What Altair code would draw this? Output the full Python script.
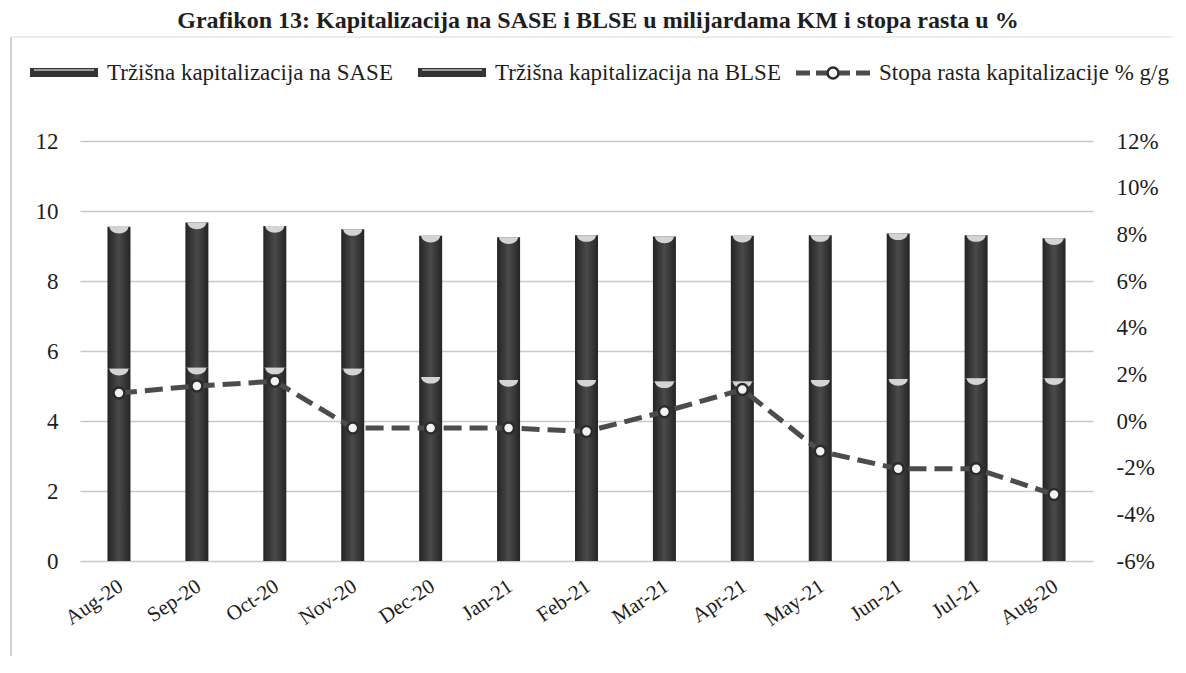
import json
import altair as alt
import pandas as pd

# ---------------- data ----------------
months = ["Aug-20", "Sep-20", "Oct-20", "Nov-20", "Dec-20", "Jan-21", "Feb-21",
          "Mar-21", "Apr-21", "May-21", "Jun-21", "Jul-21", "Aug-20"]
sase = [5.49, 5.52, 5.52, 5.49, 5.26, 5.17, 5.17, 5.13, 5.13, 5.17, 5.20, 5.22, 5.22]
blse = [4.06, 4.15, 4.05, 3.99, 4.03, 4.08, 4.14, 4.14, 4.16, 4.14, 4.16, 4.09, 4.00]
growth = [1.2, 1.5, 1.7, -0.3, -0.3, -0.3, -0.45, 0.4, 1.35, -1.3, -2.05, -2.05, -3.15]

left_ticks = [0, 2, 4, 6, 8, 10, 12]
right_ticks = [-6, -4, -2, 0, 2, 4, 6, 8, 10, 12]

title_text = "Grafikon 13: Kapitalizacija na SASE i BLSE u milijardama KM i stopa rasta u %"
legend_labels = ["Tržišna kapitalizacija na SASE",
                 "Tržišna kapitalizacija na BLSE",
                 "Stopa rasta kapitalizacije % g/g"]

# ---------------- table ----------------
df = pd.DataFrame({
    "idx": list(range(len(months))),
    "month": months,
    "sase": sase,
    "blse": blse,
    "growth": growth,
})
df["total"] = df["sase"] + df["blse"]

FONT = "Liberation Serif"
TXT = "#1e1e1e"
BAR_FILL = alt.LinearGradient(
    gradient="linear",
    stops=[alt.GradientStop(color="#242424", offset=0),
           alt.GradientStop(color="#4a4a4a", offset=0.5),
           alt.GradientStop(color="#242424", offset=1)],
    x1=0, x2=1, y1=0, y2=0,
)
CAP_SHAPE = "M -1 0 A 1 0.7 0 0 0 1 0 Z"
label_expr = json.dumps(months) + "[datum.value]"


def x_enc():
    return alt.X(
        "idx:O",
        title=None,
        scale=alt.Scale(type="band", paddingInner=0, paddingOuter=0),
        axis=alt.Axis(labelExpr=label_expr, labelAngle=-34, labelAlign="right",
                      labelBaseline="top", labelPadding=14, labelFontSize=21,
                      labelOffset=-4, labelOverlap=False, grid=False, ticks=False,
                      domain=False),
    )


y_left = alt.Y(
    "sase:Q", title=None,
    scale=alt.Scale(domain=[0, 12], nice=False, zero=True),
    axis=alt.Axis(values=left_ticks, format="d", grid=True, gridColor="#c9c9c9",
                  gridWidth=1.5, labelPadding=22, orient="left"),
)

base = alt.Chart(df)

bar_sase = base.mark_bar(size=23, color=BAR_FILL).encode(x=x_enc(), y=y_left)
bar_blse = base.mark_bar(size=23, color=BAR_FILL).encode(
    x=x_enc(), y=alt.Y("sase:Q"), y2=alt.Y2("total:Q"))
cap_sase = base.mark_point(shape=CAP_SHAPE, filled=True, color="#d4d4d4",
                           size=361, opacity=1).encode(x=x_enc(), y=alt.Y("sase:Q"))
cap_blse = base.mark_point(shape=CAP_SHAPE, filled=True, color="#d4d4d4",
                           size=361, opacity=1).encode(x=x_enc(), y=alt.Y("total:Q"))

left_group = alt.layer(bar_sase, bar_blse, cap_sase, cap_blse)

y_right = alt.Y(
    "growth:Q", title=None,
    scale=alt.Scale(domain=[-6, 12], nice=False, zero=False),
    axis=alt.Axis(values=right_ticks, labelExpr="datum.value + '%'", grid=False,
                  labelPadding=23, orient="right"),
)
line = base.mark_line(color="#4e4b4f", strokeWidth=5, strokeDash=[18, 8]).encode(
    x=x_enc(), y=y_right)
pts = base.mark_point(filled=True, fill="#f2f2f2", stroke="#2c2c2c", strokeWidth=2.5,
                      size=120, opacity=1).encode(x=x_enc(), y=alt.Y("growth:Q"))
right_group = alt.layer(line, pts)

# ---------------- decorations: frame, title, legend ----------------
one = alt.Chart(pd.DataFrame({"k": [0]}))

frame_left = one.mark_rule(color="#cfcfcf", strokeWidth=2).encode(
    x=alt.value(-69), y=alt.value(-104), y2=alt.value(540))
frame_top = one.mark_rule(color="#e6e6e6", strokeWidth=1.5).encode(
    x=alt.value(-69), x2=alt.value(1110), y=alt.value(-104))

title = one.mark_text(text=title_text, font=FONT, fontSize=24, fontWeight="bold",
                      color=TXT, align="center", baseline="alphabetic").encode(
    x=alt.value(518), y=alt.value(-113))

LEG_Y = -68
sw1 = one.mark_rect(color="#343434").encode(
    x=alt.value(-50), x2=alt.value(18), y=alt.value(LEG_Y - 5), y2=alt.value(LEG_Y + 4))
sw1_hi = one.mark_rule(color="#bdbdbd", strokeWidth=1.5).encode(
    x=alt.value(-46), x2=alt.value(14), y=alt.value(LEG_Y - 3))
t1 = one.mark_text(text=legend_labels[0], font=FONT, fontSize=23, color=TXT,
                   align="left", baseline="middle").encode(x=alt.value(27), y=alt.value(LEG_Y))
sw2 = one.mark_rect(color="#343434").encode(
    x=alt.value(338), x2=alt.value(406), y=alt.value(LEG_Y - 5), y2=alt.value(LEG_Y + 4))
sw2_hi = one.mark_rule(color="#bdbdbd", strokeWidth=1.5).encode(
    x=alt.value(342), x2=alt.value(402), y=alt.value(LEG_Y - 3))
t2 = one.mark_text(text=legend_labels[1], font=FONT, fontSize=23, color=TXT,
                   align="left", baseline="middle").encode(x=alt.value(415), y=alt.value(LEG_Y))
leg_line = one.mark_rule(color="#4e4b4f", strokeWidth=5, strokeDash=[14, 6]).encode(
    x=alt.value(716), x2=alt.value(790), y=alt.value(LEG_Y))
leg_pt = one.mark_point(filled=True, fill="#f2f2f2", stroke="#2c2c2c", strokeWidth=2.5,
                        size=120, opacity=1).encode(x=alt.value(753), y=alt.value(LEG_Y))
t3 = one.mark_text(text=legend_labels[2], font=FONT, fontSize=23, color=TXT,
                   align="left", baseline="middle").encode(x=alt.value(799), y=alt.value(LEG_Y))

chart = alt.layer(
    frame_left, frame_top, title,
    sw1, sw1_hi, t1, sw2, sw2_hi, t2, leg_line, leg_pt, t3,
    left_group, right_group,
).resolve_scale(y="independent").properties(
    width=1013, height=420,
    autosize=alt.AutoSizeParams(type="none"),
    padding={"left": 72, "top": 133, "right": 80, "bottom": 95},
    background="white",
).configure_axis(
    labelFont=FONT, labelFontSize=23, labelColor=TXT, domain=False, ticks=False,
).configure_view(stroke=None)

chart.save("out.html", embed_options={"renderer": "svg", "actions": False})
